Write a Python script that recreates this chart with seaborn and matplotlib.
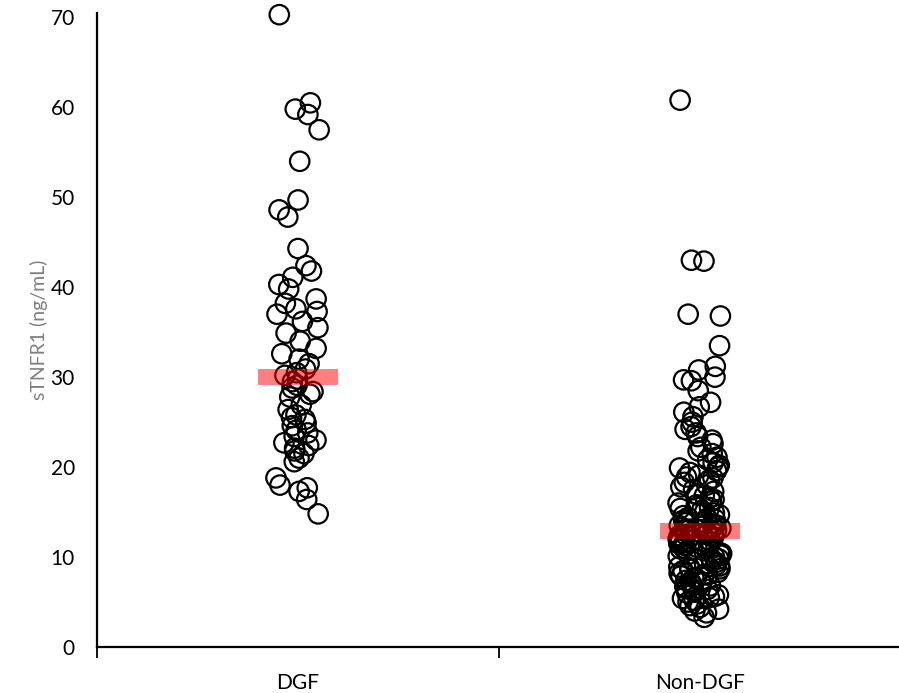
import numpy as np
import pandas as pd
import matplotlib
matplotlib.use("Agg")
import matplotlib.pyplot as plt
from matplotlib.ticker import FixedLocator
import seaborn as sns

# sTNFR1 concentrations (ng/mL) per group
groups = ["DGF", "Non-DGF"]

dgf_values = [
    70.3, 60.5, 59.8, 59.2, 57.5, 54.0, 49.7, 48.6, 47.8, 44.3,
    42.4, 41.8, 41.1, 40.3, 39.8, 38.7, 38.2, 37.6, 37.3, 37.0,
    36.2, 35.5, 34.9, 34.0, 33.2, 32.6, 32.0, 31.5, 30.9, 30.5,
    30.2, 29.8, 29.5, 29.1, 28.8, 28.4, 28.1, 27.8, 26.9, 26.4,
    25.8, 25.5, 25.3, 24.6, 24.1, 23.8, 23.4, 23.0, 22.7, 22.4,
    22.1, 21.8, 21.5, 21.0, 20.6, 18.8, 18.0, 17.7, 17.3, 16.4,
    14.8, 24.9,
]

non_dgf_values = [
    60.8, 43.0, 42.9, 37.0, 36.8, 33.5, 31.2, 30.8, 30.0, 29.7,
    29.6, 28.5, 27.2, 26.7, 26.1, 25.6, 25.0, 24.5, 24.2, 23.8,
    23.4, 23.0, 22.6, 22.2, 21.8, 21.5, 21.1, 20.8, 20.5, 20.2,
    19.9, 19.6, 19.4, 19.1, 18.8, 18.6, 18.3, 18.0, 17.8, 17.5,
    17.3, 17.0, 16.8, 16.6, 16.4, 16.2, 16.0, 15.8, 15.6, 15.4,
    15.2, 15.0, 14.9, 14.7, 14.6, 14.4, 14.3, 14.1, 14.0, 13.9,
    13.8, 13.7, 13.6, 13.5, 13.4, 13.3, 13.2, 13.1, 13.1, 13.0,
    20.0, 18.9, 16.9, 15.5, 14.2,
    12.9, 12.8, 12.7, 12.6, 12.5, 12.4, 12.3, 12.2, 12.1, 12.0,
    11.9, 11.8, 11.6, 11.5, 11.4, 11.2, 11.1, 11.0, 10.8, 10.7,
    10.5, 10.4, 10.3, 10.1, 10.0, 9.8, 9.7, 9.5, 9.4, 9.2,
    9.1, 8.9, 8.8, 8.6, 8.5, 8.3, 8.2, 8.0, 7.9, 7.7,
    7.6, 7.4, 7.3, 7.1, 7.0, 6.8, 6.7, 6.5, 6.3, 6.1,
    6.0, 5.8, 5.6, 5.4, 5.2, 5.0, 4.8, 4.6, 4.4, 4.2,
    4.0, 3.8, 3.3, 11.7, 10.9, 9.9, 9.0, 8.1, 7.2, 6.4,
    5.5, 12.5, 11.3, 10.2, 8.7,
]

y_ticks = [0, 10, 20, 30, 40, 50, 60, 70]
y_label = "sTNFR1 (ng/mL)"

df = pd.DataFrame({
    "group": [groups[0]] * len(dgf_values) + [groups[1]] * len(non_dgf_values),
    "value": dgf_values + non_dgf_values,
})

sns.set_theme(style="white")
plt.rcParams["font.family"] = ["Lato", "DejaVu Sans"]

fig = plt.figure(figsize=(8.99, 6.93), dpi=100)
ax = fig.add_axes([0.108, 0.0664, 0.894, 0.915])

np.random.seed(7)
sns.stripplot(data=df, x="group", y="value", order=groups, ax=ax,
              jitter=0.055, size=14, color="black", linewidth=1.6,
              edgecolor="black", zorder=2)
for coll in ax.collections:
    coll.set_facecolor("none")
    coll.set_edgecolor("black")
    coll.set_clip_on(False)

# median bars
sns.pointplot(data=df, x="group", y="value", order=groups, ax=ax,
              estimator="median", errorbar=None, markers="_",
              linestyles="none", color="red", markersize=58,
              markeredgewidth=11.5, alpha=0.5, zorder=3)

ax.set_xlim(-0.5, 1.5)
ax.set_ylim(0, 70.5)
ax.set_yticks(y_ticks)
ax.set_yticklabels([str(t) for t in y_ticks], fontsize=15, color="black")
ax.tick_params(axis="y", length=0, pad=16)

# boundary tick marks between categories, labels centred on categories
ax.xaxis.set_major_locator(FixedLocator([-0.5, 0.5, 1.5]))
ax.set_xticklabels(["", "", ""])
ax.xaxis.set_minor_locator(FixedLocator([0, 1]))
ax.set_xticklabels(groups, minor=True, fontsize=15, color="black")
ax.tick_params(axis="x", which="major", length=8, width=1.3, color="black",
               direction="out", bottom=True)
ax.tick_params(axis="x", which="minor", length=0, pad=19, bottom=True)

ax.set_xlabel("")
ax.set_ylabel(y_label, fontsize=14, color="#7f7f7f", labelpad=2)

for side in ["top", "right"]:
    ax.spines[side].set_visible(False)
for side in ["left", "bottom"]:
    ax.spines[side].set_color("black")
    ax.spines[side].set_linewidth(1.6)

fig.savefig("out.png", dpi=100)
